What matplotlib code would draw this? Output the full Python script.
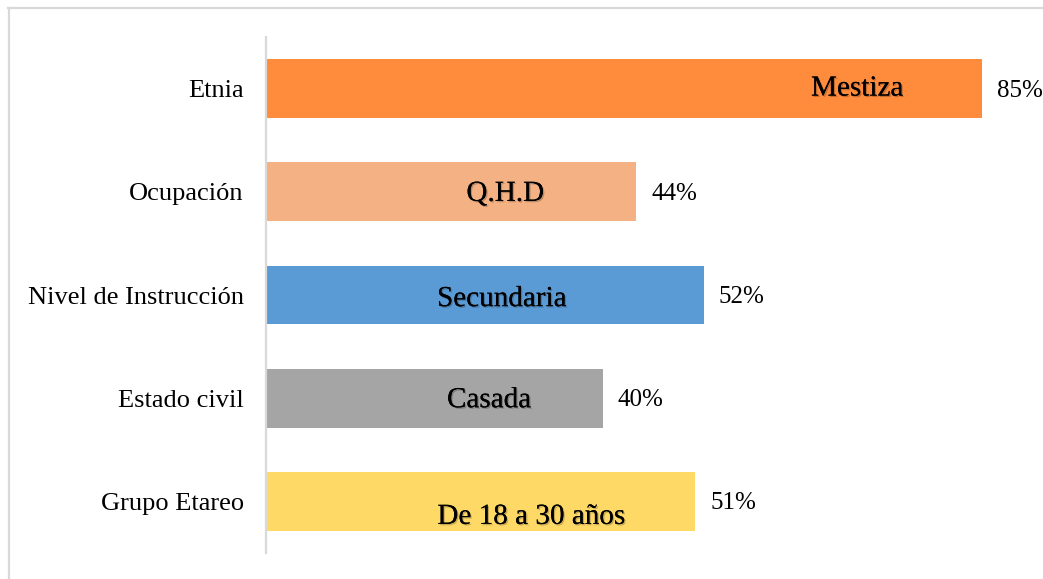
import matplotlib
matplotlib.use('Agg')
import matplotlib.pyplot as plt
import matplotlib.patheffects as pe
from matplotlib.lines import Line2D

# data (top to bottom)
categories = ['Etnia', 'Ocupación', 'Nivel de Instrucción', 'Estado civil', 'Grupo Etareo']
values = [85, 44, 52, 40, 51]
inner_labels = ['Mestiza', 'Q.H.D', 'Secundaria', 'Casada', 'De 18 a 30 años']
colors = ['#FF8B3D', '#F4B183', '#5B9BD5', '#A5A5A5', '#FFD966']

# where the inside labels sit (x in data units, y offset in category units)
inner_x = [70.2, 28.4, 28.0, 26.5, 31.5]
inner_dy = [0.0, 0.02, 0.04, 0.02, 0.15]

plt.rcParams['font.family'] = ['Liberation Serif', 'DejaVu Serif']

W, H = 1043, 579
fig = plt.figure(figsize=(W / 100, H / 100), dpi=100)
ax = fig.add_axes([266 / W, 1 - 553 / H, (1030 - 266) / W, (553 - 37) / H])

ypos = list(range(len(categories)))
ax.barh(ypos, values, height=0.57, color=colors)
ax.set_ylim(-0.5, len(categories) - 0.5)
ax.invert_yaxis()
ax.set_xlim(0, (1030 - 266) / 8.42)

ax.set_yticks(ypos)
ax.set_yticklabels(categories, fontsize=19)
ax.tick_params(axis='y', length=0, pad=16)
ax.set_xticks([])
for s in ['top', 'right', 'bottom']:
    ax.spines[s].set_visible(False)
ax.spines['left'].set_color('#D9D9D9')
ax.spines['left'].set_linewidth(1.6)

shadow = [pe.withSimplePatchShadow(offset=(1, -1), shadow_rgbFace='black', alpha=0.22),
          pe.Normal()]
for y, v, lab, lx, dy in zip(ypos, values, inner_labels, inner_x, inner_dy):
    ax.text(lx, y + dy, lab, ha='center', va='center', fontsize=21,
            color='black', path_effects=shadow)
    ax.text(v + 1.8, y + 0.02, f'{v}%', ha='left', va='center', fontsize=18,
            color='black')

# chart area border (only top and left visible in the crop)
fig.add_artist(Line2D([8 / W, 1], [1 - 7.5 / H] * 2, transform=fig.transFigure,
                      color='#D9D9D9', lw=1.6))
fig.add_artist(Line2D([8.5 / W] * 2, [0, 1 - 7.5 / H], transform=fig.transFigure,
                      color='#D9D9D9', lw=1.6))

fig.savefig('out.png', dpi=100)
